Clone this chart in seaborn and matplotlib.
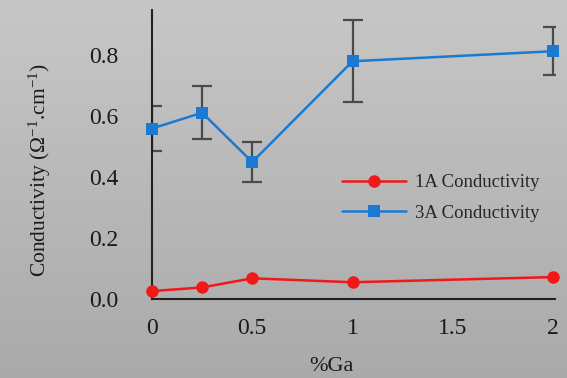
import numpy as np
import pandas as pd
import seaborn as sns
import matplotlib.pyplot as plt

# values
ga = [0, 0.25, 0.5, 1, 2]
cond_1a = [0.026, 0.038, 0.068, 0.055, 0.072]
cond_3a = [0.56, 0.612, 0.45, 0.781, 0.814]
err_3a = [0.074, 0.088, 0.067, 0.135, 0.078]
series_names = ['1A Conductivity', '3A Conductivity']
x_ticks = [0, 0.5, 1, 1.5, 2]
x_tick_labels = ['0', '0.5', '1', '1.5', '2']
y_ticks = [0.0, 0.2, 0.4, 0.6, 0.8]

df = pd.DataFrame({
    'ga': ga + ga,
    'cond': cond_1a + cond_3a,
    'series': [series_names[0]] * len(ga) + [series_names[1]] * len(ga),
})

sns.set_style('white')
plt.rcParams['font.family'] = ['Liberation Serif', 'DejaVu Serif']
plt.rcParams['mathtext.fontset'] = 'custom'
plt.rcParams['mathtext.rm'] = 'Liberation Serif'
plt.rcParams['mathtext.it'] = 'Liberation Serif:italic'

fig = plt.figure(figsize=(5.67, 3.78), dpi=100)

#Gray gradient background
bg = fig.add_axes([0, 0, 1, 1], zorder=-10)
grad = np.linspace(0, 1, 256).reshape(-1, 1)
bg.imshow(grad, aspect='auto', cmap=plt.matplotlib.colors.LinearSegmentedColormap.from_list(
    'bg', ['#c7c7c7', '#aaaaaa']), extent=[0, 1, 0, 1], origin='upper')
bg.axis('off')

ax = fig.add_axes([0.268, 0.209, 0.711, 0.765])
ax.patch.set_alpha(0)

colors = {series_names[0]: '#f21818', series_names[1]: '#1a7ad2'}
sns.lineplot(data=df, x='ga', y='cond', hue='series', style='series',
             markers={series_names[0]: 'o', series_names[1]: 's'}, dashes=False,
             palette=colors, markersize=9, markeredgewidth=0, linewidth=1.8,
             ax=ax, clip_on=False, zorder=3)

ax.errorbar(ga, cond_3a, yerr=err_3a, fmt='none', ecolor='#4a4a4a',
            elinewidth=1.6, capsize=7, capthick=1.6, zorder=2)

ax.set_xlim(0, 2.01)
ax.set_ylim(0, 0.95)
ax.set_xticks(x_ticks)
ax.set_xticklabels(x_tick_labels)
ax.set_yticks(y_ticks)
ax.set_yticklabels([f'{v:.1f}' for v in y_ticks])
ax.tick_params(axis='both', length=0, labelsize=17, colors='#1a1a1a')
ax.tick_params(axis='y', pad=24)
ax.tick_params(axis='x', pad=14)

for s in ['top', 'right']:
    ax.spines[s].set_visible(False)
for s in ['left', 'bottom']:
    ax.spines[s].set_color('#222222')
    ax.spines[s].set_linewidth(1.5)

ax.set_xlabel('%Ga', fontsize=16, color='#1a1a1a', labelpad=14)
ax.xaxis.set_label_coords(0.444, -0.2)
ax.set_ylabel(r'Conductivity ($\Omega^{-1}$.cm$^{-1}$)', fontsize=15.5,
              color='#1a1a1a', labelpad=20)
ax.yaxis.set_label_coords(-0.245, 0.445)

ax.legend(loc='upper left', bbox_to_anchor=(0.43, 0.49), frameon=False,
          fontsize=13.5, handlelength=3.4, handletextpad=0.5, labelspacing=0.7)

plt.savefig('out.png', dpi=100)
